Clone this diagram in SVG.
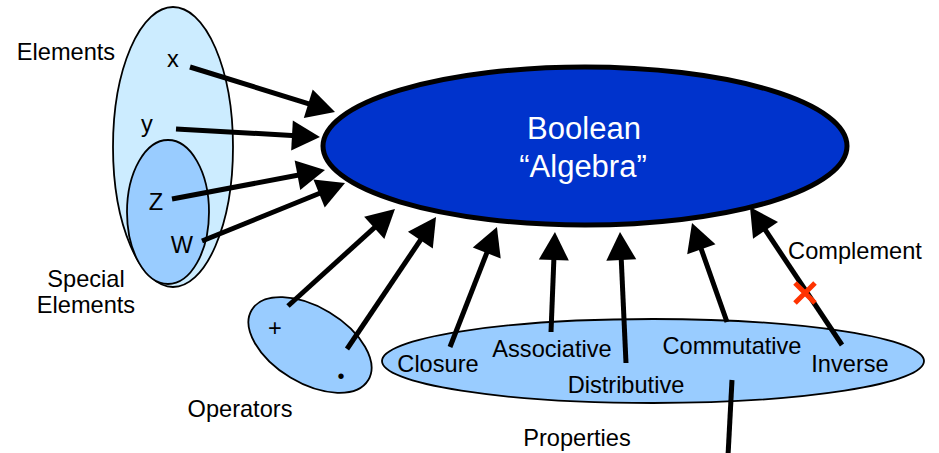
<svg xmlns="http://www.w3.org/2000/svg" width="939" height="453" viewBox="0 0 939 453">
<style>
text{font-family:"Liberation Sans",Arial,sans-serif;font-size:23.6px;fill:#000;text-anchor:middle}
.big{font-size:31px;fill:#fff}
.arrow{stroke:#000;stroke-width:5;fill:none;marker-end:url(#ah)}
.thin{stroke:#000;stroke-width:1.8}
</style>
<defs>
<marker id="ah" markerUnits="userSpaceOnUse" markerWidth="30" markerHeight="30" refX="4" refY="15" orient="auto" viewBox="0 0 30 30" overflow="visible">
<path d="M0,0 L28,15 L0,30 z" fill="#000"/>
</marker>
</defs>
<rect width="939" height="453" fill="#fff"/>
<g id="elements">
<ellipse cx="173" cy="147" rx="60" ry="140" fill="#CCECFF" class="thin"/>
<text x="66" y="60">Elements</text>
<text x="173" y="67">x</text>
<text x="147" y="132">y</text>
</g>
<g id="special-elements">
<ellipse cx="168" cy="212" rx="41" ry="72" fill="#99CCFF" class="thin"/>
<text x="156" y="210">Z</text>
<text x="182" y="253">W</text>
<text x="86" y="287">Special</text>
<text x="86" y="313">Elements</text>
</g>
<g id="boolean-algebra">
<ellipse cx="585" cy="146" rx="262" ry="79" fill="#0033CC" stroke="#000" stroke-width="5"/>
<text class="big" x="584" y="139">Boolean</text>
<text class="big" x="583" y="177">“Algebra”</text>
</g>
<g id="operators">
<ellipse cx="310" cy="345" rx="68" ry="38" transform="rotate(31 310 345)" fill="#99CCFF" class="thin"/>
<text x="275" y="336">+</text>
<text x="341" y="383" style="font-size:20px">•</text>
<text x="240" y="417">Operators</text>
</g>
<g id="properties">
<ellipse cx="653" cy="361" rx="271" ry="42" fill="#99CCFF" class="thin"/>
<text x="438" y="372">Closure</text>
<text x="552" y="357">Associative</text>
<text x="626" y="393">Distributive</text>
<text x="732" y="354">Commutative</text>
<text x="850" y="372">Inverse</text>
<text x="577" y="446">Properties</text>
</g>
<g id="connectors">
<path class="arrow" d="M190,67 L312.1,104.9"/>
<path class="arrow" d="M176,129 L296,135.7"/>
<path class="arrow" d="M172,199 L301.4,174.5"/>
<path class="arrow" d="M202,241 L322.8,192"/>
<path class="arrow" d="M288,306 L377.2,225.1"/>
<path class="arrow" d="M347,349 L422.6,236.9"/>
<path class="arrow" d="M450,347 L488.2,249.3"/>
<path class="arrow" d="M551,332 L554,256"/>
<path class="arrow" d="M626,363 L621.1,256"/>
<path class="arrow" d="M727,322 L700,245.6"/>
<path class="arrow" d="M842,345 L763.3,227"/>
<path d="M732,380 L728,456" stroke="#000" stroke-width="5" fill="none"/>
</g>
<g id="complement">
<text x="855" y="259">Complement</text>
<path d="M795,283 L815,303 M815,283 L795,303" stroke="#FF3300" stroke-width="5"/>
</g>
</svg>
